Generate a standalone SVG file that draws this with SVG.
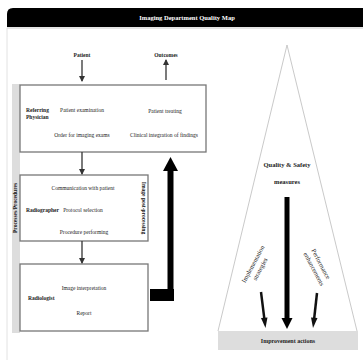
<svg xmlns="http://www.w3.org/2000/svg" width="363" height="360" viewBox="0 0 363 360">
<style>
.t{font-family:"Liberation Serif",serif;font-size:5.5px;fill:#222;text-anchor:middle}
.b{font-weight:bold}
.box{fill:#fff;stroke:#777;stroke-width:1.3}
.ln{stroke:#333;stroke-width:1.3;fill:none}
.v{font-size:5.5px;fill:#111;font-weight:bold}
</style>
<defs>
<marker id="ah" markerWidth="6" markerHeight="6" refX="5" refY="3" orient="auto" markerUnits="userSpaceOnUse"><path d="M0,0 L6,3 L0,6 z" fill="#333"/></marker>
</defs>
<rect width="363" height="360" fill="#fff"/>
<g id="header">
<path d="M7,27 L7,14 Q7,8 13,8 L363,8 L363,27 z" fill="#000"/>
<text x="187" y="20" class="t b" style="fill:#fff;font-size:6.5px">Imaging Department Quality Map</text>
<line x1="7" y1="28" x2="363" y2="28" stroke="#ddd" stroke-width="1.5"/>
<line x1="7" y1="28" x2="7" y2="360" stroke="#e2e2e2" stroke-width="1"/>
</g>
<rect x="12" y="84" width="8" height="249" fill="#ddd"/>
<g id="patient"><text x="82" y="57" class="t b">Patient</text></g>
<g id="outcomes"><text x="166" y="57" class="t b">Outcomes</text></g>
<g id="referring">
<rect x="20" y="85" width="186" height="67" class="box"/>
<text x="26" y="112" class="t b" style="text-anchor:start">Referring</text>
<text x="26" y="119" class="t b" style="text-anchor:start">Physician</text>
<text x="82" y="112" class="t">Patient examination</text>
<text x="82" y="137" class="t">Order for imaging exams</text>
<text x="165" y="113" class="t">Patient treating</text>
<text x="164" y="137" class="t">Clinical integration of findings</text>
</g>
<g id="radiographer">
<rect x="20" y="175" width="128" height="66" class="box"/>
<text x="26" y="212" class="t b" style="text-anchor:start">Radiographer</text>
<text x="83" y="190" class="t">Communication with patient</text>
<text x="83" y="212" class="t">Protocol selection</text>
<text x="84" y="234" class="t">Procedure performing</text>
<text transform="translate(17,208) rotate(-90)" class="t v">Processes/Procedures</text>
<text transform="translate(142,208) rotate(90)" class="t v">Image post-processing</text>
</g>
<g id="radiologist">
<rect x="20" y="264" width="128" height="67" class="box"/>
<text x="28" y="300" class="t b" style="text-anchor:start">Radiologist</text>
<text x="84" y="290" class="t">Image interpretation</text>
<text x="84" y="315" class="t">Report</text>
</g>
<g id="triangle">
<path d="M287,45 L218,331 M287,45 L357,331" stroke="#bbb" stroke-width="0.8" fill="none"/>
<rect x="218" y="331" width="140" height="19" fill="#ddd"/>
<text x="288" y="343" class="t b" style="font-size:6px">Improvement actions</text>
<text x="287" y="167" class="t b" style="font-size:6.5px">Quality &amp; Safety</text>
<text x="287" y="184" class="t b" style="font-size:6.5px">measures</text>
<text transform="translate(255,265) rotate(-62)" class="t" style="font-size:6.5px">Implementation</text>
<text transform="translate(262,270) rotate(-62)" class="t" style="font-size:6.5px">strategies</text>
<text transform="translate(319,265) rotate(62)" class="t" style="font-size:6.5px">Performance</text>
<text transform="translate(312,270) rotate(62)" class="t" style="font-size:6.5px">enhancements</text>
</g>
<g id="connectors">
<line x1="82" y1="60" x2="82" y2="81" class="ln" marker-end="url(#ah)"/>
<line x1="166" y1="80" x2="166" y2="60" class="ln" marker-end="url(#ah)"/>
<line x1="82" y1="152" x2="82" y2="174" class="ln" marker-end="url(#ah)"/>
<line x1="82" y1="241" x2="82" y2="263" class="ln" marker-end="url(#ah)"/>
<rect x="150" y="289" width="24" height="12" fill="#000"/>
<line x1="170.5" y1="295" x2="170.5" y2="168" stroke="#000" stroke-width="6"/>
<polygon points="170.5,157 163,171 178,171" fill="#000"/>
<line x1="287" y1="197" x2="287" y2="320" stroke="#000" stroke-width="5"/>
<polygon points="287,329 281.5,318 292.5,318" fill="#000"/>
<line x1="261" y1="292" x2="264.5" y2="320" stroke="#111" stroke-width="2.5"/>
<polygon points="265.5,328 261,318 267.5,317.5" fill="#111"/>
<line x1="317" y1="293" x2="314" y2="320" stroke="#111" stroke-width="2.5"/>
<polygon points="313,328 311,317.5 317.5,318" fill="#111"/>
</g>
</svg>
